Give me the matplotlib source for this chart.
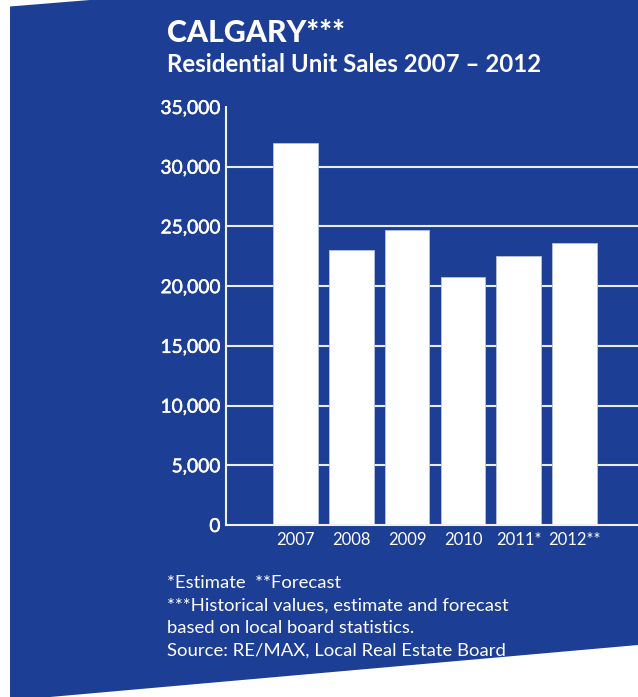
import os
import matplotlib
matplotlib.use("Agg")
import matplotlib.pyplot as plt
import matplotlib.patheffects as pe
import matplotlib.font_manager as fm
from matplotlib.patches import Polygon

years = ["2007", "2008", "2009", "2010", "2011*", "2012**"]
sales = [32000, 23000, 24700, 20800, 22500, 23600]
y_ticks = [0, 5000, 10000, 15000, 20000, 25000, 30000, 35000]
y_labels = ["0", "5,000", "10,000", "15,000", "20,000", "25,000", "30,000", "35,000"]

title = "CALGARY***"
subtitle = "Residential Unit Sales 2007 \u2013 2012"
notes = [
    "*Estimate  **Forecast",
    "***Historical values, estimate and forecast",
    "based on local board statistics.",
    "Source: RE/MAX, Local Real Estate Board",
]

blue = "#1c3e94"
W, H = 638, 697

plt.rcParams["font.family"] = ["Lato", "DejaVu Sans"]


def lato_file(tag):
    # pick an upright Lato file whose name ends with the given weight tag
    for f in fm.fontManager.ttflist:
        base = os.path.splitext(os.path.basename(f.fname))[0].lower()
        if f.name == "Lato" and base.endswith("-" + tag):
            return fm.FontProperties(fname=f.fname)
    return fm.FontProperties(family="Lato", weight="bold")


bold = lato_file("bold")
black = lato_file("black")

fig = plt.figure(figsize=(W / 100, H / 100), dpi=100, facecolor="white")

# slanted blue panel behind everything (pixel corners, y measured from top)
corners = [(10, 6.5), (90, 0), (638, 0), (638, 645), (50, 697), (10, 697)]
panel = Polygon([(x / W, 1 - y / H) for x, y in corners], closed=True,
                transform=fig.transFigure, facecolor=blue, edgecolor="none", zorder=-5)
fig.patches.append(panel)

ax = fig.add_axes([226 / W, 1 - 525 / H, 1 - 226 / W, (525 - 107) / H])
ax.set_facecolor("none")

x = list(range(len(years)))
for v in y_ticks[1:-1]:
    ax.axhline(v, color="#e8ecf6", lw=1.5, zorder=1)
ax.bar(x, sales, width=0.8, color="white", edgecolor="#b8c3e0", linewidth=0.6, zorder=2)

ax.set_xlim(-1.25, 6.14)
ax.set_ylim(0, 35000)
ax.set_xticks(x)
ax.set_xticklabels(years)
ax.set_yticks(y_ticks)
ax.set_yticklabels(y_labels)
ax.tick_params(axis="y", length=0, pad=4, labelsize=13.8, labelcolor="white")
ax.tick_params(axis="x", length=0, pad=5, labelsize=12, labelcolor="white")

# y tick numbers are a touch heavier than the rest
for lab in ax.get_yticklabels():
    lab.set_path_effects([pe.withStroke(linewidth=0.35, foreground="white")])

for side in ["top", "right"]:
    ax.spines[side].set_visible(False)
for side in ["left", "bottom"]:
    ax.spines[side].set_color("#eef1f8")
    ax.spines[side].set_linewidth(1.5)
ax.spines["bottom"].set_zorder(3)

t = fig.text(167 / W, 1 - 41.7 / H, title, color="white",
             fontproperties=black, va="baseline", ha="left")
t.set_fontsize(21.8)
s = fig.text(167 / W, 1 - 72 / H, subtitle, color="white",
             fontproperties=bold, va="baseline", ha="left")
s.set_fontsize(17.3)

for i, line in enumerate(notes):
    fig.text(167 / W, 1 - (588 + 22.6 * i) / H, line, color="white",
             fontsize=13.3, va="baseline", ha="left")

fig.savefig("out.png", dpi=100, facecolor="white")
